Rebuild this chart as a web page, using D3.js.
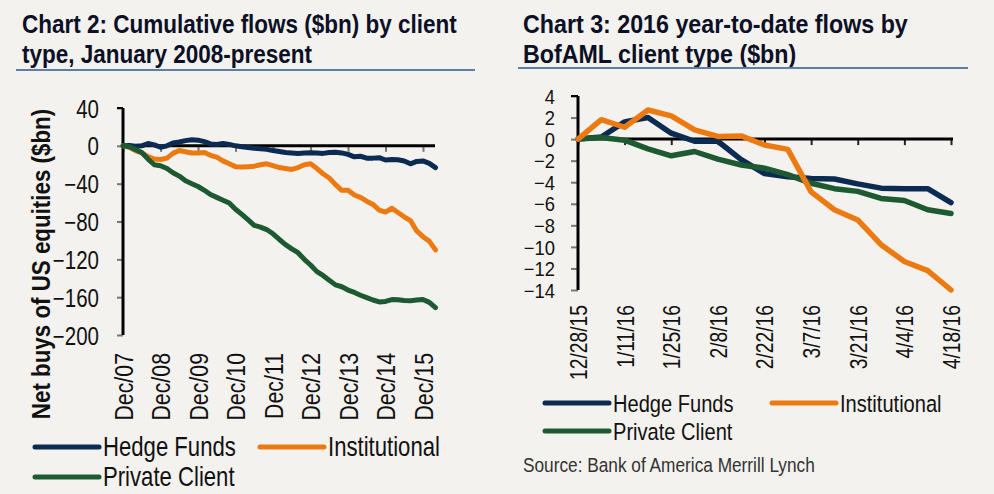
<!DOCTYPE html>
<html><head><meta charset="utf-8">
<script src="https://cdn.jsdelivr.net/npm/d3@7"></script>
<style>
html,body{margin:0;padding:0;background:#f4f2ee;}
svg{display:block;}
</style></head><body>
<svg id="c" width="994" height="494"></svg>
<script>
// ---------- Chart 2 data (bi-monthly readings, $bn) ----------
const leftDates = ["2007-12",
 "2008-02","2008-04","2008-06","2008-08","2008-10","2008-12",
 "2009-02","2009-04","2009-06","2009-08","2009-10","2009-12",
 "2010-02","2010-04","2010-06","2010-08","2010-10","2010-12",
 "2011-02","2011-04","2011-06","2011-08","2011-10","2011-12",
 "2012-02","2012-04","2012-06","2012-08","2012-10","2012-12",
 "2013-02","2013-04","2013-06","2013-08","2013-10","2013-12",
 "2014-02","2014-04","2014-06","2014-08","2014-10","2014-12",
 "2015-02","2015-04","2015-06","2015-08","2015-10","2015-12",
 "2016-02","2016-04"];
const leftHedgeFunds = [0,
 0.3,-0.5,0,2.5,1,-1.5,
 0,3,4,5.5,6.5,6,
 4.5,2,1.5,2.5,1.5,0,
 -1,-1.8,-2.5,-3,-3.7,-5,
 -6,-7,-7.5,-8,-7.6,-7.4,
 -7.6,-8,-7,-6.7,-7.5,-9,
 -11.6,-11,-13,-13,-12.5,-15,
 -14.5,-14.8,-16,-19,-16.5,-16,
 -18.5,-23];
const leftInstitutional = [0,
 -1.5,-5,-7.5,-11.5,-14,-14.5,
 -13,-8,-5,-6.3,-7.5,-7.5,
 -7,-10,-12,-15.9,-19,-22,
 -22.5,-22,-21.5,-20,-19,-21,
 -23,-24,-25,-23,-20,-19,
 -24,-29.5,-34,-41,-47,-47,
 -52,-54.5,-58.5,-62,-68,-70,
 -66,-70.5,-75,-79,-90,-96,
 -101,-110];
const leftPrivateClient = [0,
 -1,-4,-7,-14,-20,-21,
 -24,-28.5,-32,-37,-40,-43,
 -47,-51.5,-54.5,-57.5,-60.5,-67,
 -72.5,-78,-84,-86,-88.5,-93,
 -99,-104.5,-109,-113,-120,-126,
 -133,-137,-142,-147,-149,-152.5,
 -155,-158,-160.5,-163,-165,-164.5,
 -162.5,-162.8,-163.5,-163.8,-163,-162.5,
 -165.5,-171];
const leftTickDates = ["2007-12","2008-12","2009-12","2010-12","2011-12","2012-12","2013-12","2014-12","2015-12"];
const leftTickLabels = ["Dec/07","Dec/08","Dec/09","Dec/10","Dec/11","Dec/12","Dec/13","Dec/14","Dec/15"];
const leftYTicks = [40,0,-40,-80,-120,-160,-200];

// ---------- Chart 3 data (weekly, $bn) ----------
const rightDates = ["2015-12-28","2016-01-04","2016-01-11","2016-01-18","2016-01-25","2016-02-01","2016-02-08","2016-02-15","2016-02-22","2016-02-29","2016-03-07","2016-03-14","2016-03-21","2016-03-28","2016-04-04","2016-04-11","2016-04-18"];
const rightHedgeFunds = [0,0.2,1.6,2.0,0.55,-0.2,-0.2,-1.9,-3.2,-3.5,-3.65,-3.7,-4.15,-4.55,-4.6,-4.6,-5.9];
const rightInstitutional = [0,1.8,1.1,2.7,2.15,0.85,0.25,0.3,-0.55,-0.95,-4.9,-6.55,-7.5,-9.8,-11.35,-12.2,-14.0];
const rightPrivateClient = [0,0.15,-0.1,-0.9,-1.55,-1.15,-1.85,-2.4,-2.7,-3.3,-4.1,-4.6,-4.85,-5.5,-5.7,-6.55,-6.9];
const rightTickDates = ["2015-12-28","2016-01-11","2016-01-25","2016-02-08","2016-02-22","2016-03-07","2016-03-21","2016-04-04","2016-04-18"];
const rightTickLabels = ["12/28/15","1/11/16","1/25/16","2/8/16","2/22/16","3/7/16","3/21/16","4/4/16","4/18/16"];
const rightYTicks = [4,2,0,-2,-4,-6,-8,-10,-12,-14];

const seriesNames = ["Hedge Funds","Institutional","Private Client"];
const seriesColors = ["#0c2b53","#ec7a10","#1d5a32"];

// ---------- drawing ----------
const FONT = "'Liberation Sans',Arial,sans-serif";
const SQ = 0.82; // horizontal squeeze to emulate a narrow face
const svg = d3.select("#c");
const pm = d3.timeParse("%Y-%m");
const pd = d3.timeParse("%Y-%m-%d");

function title(x, lines, sx, rx1, rx2, ry) {
  lines.forEach((l, i) => {
    svg.append("text").attr("transform", `translate(${x},${33 + i * 30}) scale(${sx},1)`)
      .attr("font-family", FONT).attr("font-weight", "bold")
      .attr("font-size", 25).attr("fill", "#0b1026").text(l);
  });
  svg.append("line").attr("x1", rx1).attr("x2", rx2).attr("y1", ry).attr("y2", ry)
    .attr("stroke", "#5f7ea5").attr("stroke-width", 2.2);
}
title(22, ["Chart 2: Cumulative flows ($bn) by client", "type, January 2008-present"], 0.9, 16, 475, 70);
title(523, ["Chart 3: 2016 year-to-date flows by", "BofAML client type ($bn)"], 0.93, 518, 968, 68);

function styleAxis(g, tickColor) {
  g.select(".domain").remove();
  g.selectAll(".tick line").attr("stroke", tickColor).attr("stroke-width", 2);
}
function yLabels(g, fs, endX, sx) {
  g.selectAll(".tick text").attr("font-family", FONT).attr("font-size", fs).attr("fill", "#111")
    .attr("x", 0).attr("text-anchor", "end").attr("dy", "0.36em")
    .attr("transform", `translate(${endX},0) scale(${sx},1)`);
}
function xLabels(g, fs, dy) {
  g.selectAll(".tick text").attr("font-family", FONT).attr("font-size", fs).attr("fill", "#111")
    .attr("text-anchor", "end").attr("dy", "0.36em").attr("y", 0).attr("x", 0)
    .attr("transform", `translate(0,${dy}) rotate(-90) scale(${SQ},1)`);
}

function legend(x0, x1, y0, lineLen, fs, gapY, offY) {
  const items = [[x0, y0], [x1, y0], [x0, y0 + gapY]];
  items.forEach((p, i) => {
    svg.append("line").attr("x1", p[0]).attr("x2", p[0] + lineLen).attr("y1", p[1]).attr("y2", p[1])
      .attr("stroke", seriesColors[i]).attr("stroke-width", 5).attr("stroke-linecap", "round");
    svg.append("text").attr("transform", `translate(${p[0] + lineLen + 4},${p[1] + offY}) scale(${SQ},1)`)
      .attr("font-family", FONT).attr("font-size", fs).attr("fill", "#111").text(seriesNames[i]);
  });
}

// ===== Left chart =====
{
  const x = d3.scaleTime().domain([pm("2007-12"), pm("2016-04")]).range([123, 435.5]);
  const y = d3.scaleLinear().domain([-200, 40]).range([335, 108]);
  const ya = svg.append("g").attr("transform", "translate(123,0)")
    .call(d3.axisLeft(y).tickValues(leftYTicks).tickSize(6).tickSizeOuter(0));
  styleAxis(ya, "#777");
  yLabels(ya, 25, -24, SQ);
  const xa = svg.append("g").attr("transform", `translate(0,${y(0)})`)
    .call(d3.axisBottom(x).tickValues(leftTickDates.map(pm)).tickSize(6)
      .tickFormat((d, i) => leftTickLabels[i]));
  styleAxis(xa, "#777");
  xLabels(xa, 26, 353 - y(0));
  svg.append("line").attr("x1", 123).attr("x2", 435).attr("y1", y(0)).attr("y2", y(0))
    .attr("stroke", "#000").attr("stroke-width", 3);
  svg.append("line").attr("x1", 123).attr("x2", 123).attr("y1", y(40)).attr("y2", y(-200))
    .attr("stroke", "#000").attr("stroke-width", 3);
  svg.append("line").attr("x1", 117).attr("x2", 123).attr("y1", y(40)).attr("y2", y(40))
    .attr("stroke", "#000").attr("stroke-width", 2);
  const line = d3.line().x((d, i) => x(pm(leftDates[i]))).y(d => y(d));
  [leftHedgeFunds, leftInstitutional, leftPrivateClient].forEach((s, i) => {
    svg.append("path").attr("d", line(s)).attr("fill", "none").attr("stroke", seriesColors[i])
      .attr("stroke-width", 5).attr("stroke-linejoin", "round").attr("stroke-linecap", "round");
  });
  svg.append("text").attr("transform", "translate(42,264) rotate(-90) scale(0.894,1)")
    .attr("text-anchor", "middle").attr("dominant-baseline", "central")
    .attr("font-family", FONT).attr("font-weight", "bold").attr("font-size", 25).attr("fill", "#111")
    .text("Net buys of US equities ($bn)");
  legend(35, 260, 447, 64, 27, 30, 9);
}

// ===== Right chart =====
{
  const x = d3.scaleTime().domain([pd("2015-12-28"), pd("2016-04-18")]).range([578, 951]);
  const y = d3.scaleLinear().domain([-14, 4]).range([290, 96]);
  const ya = svg.append("g").attr("transform", "translate(578,0)")
    .call(d3.axisLeft(y).tickValues(rightYTicks).tickSize(7).tickSizeOuter(0));
  styleAxis(ya, "#777");
  yLabels(ya, 20, -23, 0.92);
  const xa = svg.append("g").attr("transform", `translate(0,${y(0)})`)
    .call(d3.axisBottom(x).tickValues(rightTickDates.map(pd)).tickSize(6)
      .tickFormat((d, i) => rightTickLabels[i]));
  styleAxis(xa, "#222");
  xLabels(xa, 23.5, 305 - y(0));
  svg.append("line").attr("x1", 578).attr("x2", 953).attr("y1", y(0)).attr("y2", y(0))
    .attr("stroke", "#000").attr("stroke-width", 3);
  svg.append("line").attr("x1", 578).attr("x2", 578).attr("y1", y(4)).attr("y2", y(-14))
    .attr("stroke", "#000").attr("stroke-width", 3);
  svg.append("line").attr("x1", 571).attr("x2", 578).attr("y1", y(4)).attr("y2", y(4))
    .attr("stroke", "#000").attr("stroke-width", 2);
  const line = d3.line().x((d, i) => x(pd(rightDates[i]))).y(d => y(d));
  [[rightHedgeFunds, 0], [rightPrivateClient, 2], [rightInstitutional, 1]].forEach(([s, i]) => {
    svg.append("path").attr("d", line(s)).attr("fill", "none").attr("stroke", seriesColors[i])
      .attr("stroke-width", 5.5).attr("stroke-linejoin", "round").attr("stroke-linecap", "round");
  });
  legend(545, 772, 403, 64, 24.5, 28, 8.5);
  svg.append("text").attr("transform", "translate(523,472) scale(0.885,1)").attr("font-family", FONT)
    .attr("font-size", 19.5).attr("fill", "#333").text("Source: Bank of America Merrill Lynch");
}
</script>
</body></html>
